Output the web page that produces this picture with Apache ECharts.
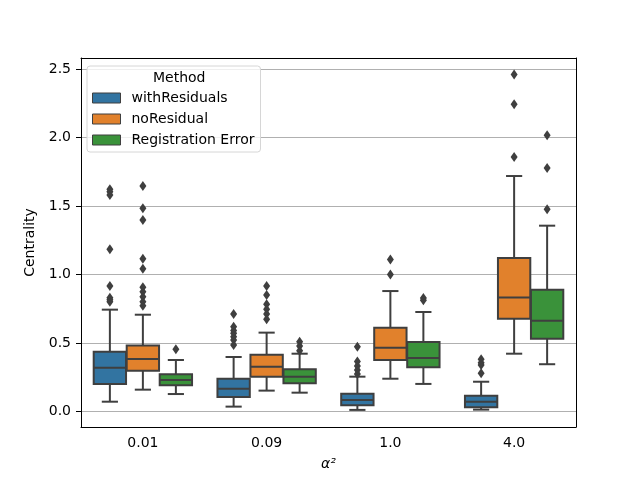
<!DOCTYPE html>
<html>
<head>
<meta charset="utf-8">
<script src="https://cdn.jsdelivr.net/npm/echarts@6/dist/echarts.min.js"></script>
<style>
  html, body { margin: 0; padding: 0; background: #fff; }
  #main { width: 640px; height: 480px; }
</style>
</head>
<body>
<div id="main"></div>
<script>
var categories = ['0.01', '0.09', '1.0', '4.0']
var methods = ['withResiduals', 'noResidual', 'Registration Error']
var colors = ['#3274a1', '#e1812c', '#3a923a']

// [lower whisker, q1, median, q3, upper whisker] per category
var withResiduals = [
  [0.070, 0.200, 0.319, 0.436, 0.743],
  [0.034, 0.105, 0.165, 0.238, 0.397],
  [0.010, 0.044, 0.083, 0.129, 0.253],
  [0.012, 0.029, 0.070, 0.114, 0.216]
]
var noResidual = [
  [0.158, 0.297, 0.382, 0.480, 0.706],
  [0.151, 0.253, 0.326, 0.414, 0.575],
  [0.238, 0.375, 0.465, 0.611, 0.879],
  [0.421, 0.677, 0.831, 1.121, 1.720]
]
var registrationError = [
  [0.126, 0.190, 0.229, 0.270, 0.375],
  [0.136, 0.205, 0.253, 0.307, 0.421],
  [0.200, 0.322, 0.390, 0.507, 0.726],
  [0.344, 0.531, 0.662, 0.889, 1.357]
]

// outliers per category
var withResidualsOut = [
  [1.623, 1.605, 1.581, 1.184, 0.916, 0.830, 0.815, 0.801],
  [0.711, 0.618, 0.590, 0.570, 0.545, 0.521, 0.485],
  [0.472, 0.363, 0.331, 0.302, 0.273],
  [0.380, 0.355, 0.338, 0.278]
]
var noResidualOut = [
  [1.647, 1.484, 1.398, 1.116, 1.042, 0.906, 0.874, 0.838, 0.801, 0.772],
  [0.916, 0.850, 0.782, 0.746, 0.711, 0.672],
  [1.110, 1.000],
  [2.463, 2.244, 1.859]
]
var registrationErrorOut = [
  [0.453],
  [0.509, 0.477, 0.443],
  [0.829, 0.812],
  [2.018, 1.778, 1.477]
]

var yTicks = [0.0, 0.5, 1.0, 1.5, 2.0, 2.5]

var boxes = [withResiduals, noResidual, registrationError]
var outs = [withResidualsOut, noResidualOut, registrationErrorOut]
var dodge = 0.8 / 3
var boxW = dodge * 0.98
var lineCol = '#3f3f3f'

function renderBox (params, api) {
  var x = api.value(0)
  var w = api.size([boxW, 0])[0]
  var c = api.coord([x, 0])[0]
  var yl = api.coord([x, api.value(1)])[1]
  var y1 = api.coord([x, api.value(2)])[1]
  var ym = api.coord([x, api.value(3)])[1]
  var y3 = api.coord([x, api.value(4)])[1]
  var yh = api.coord([x, api.value(5)])[1]
  var ls = { stroke: lineCol, lineWidth: 2 }
  return {
    type: 'group',
    children: [
      { type: 'line', shape: { x1: c, y1: y3, x2: c, y2: yh }, style: ls },
      { type: 'line', shape: { x1: c, y1: y1, x2: c, y2: yl }, style: ls },
      { type: 'line', shape: { x1: c - w / 4, y1: yh, x2: c + w / 4, y2: yh }, style: ls },
      { type: 'line', shape: { x1: c - w / 4, y1: yl, x2: c + w / 4, y2: yl }, style: ls },
      { type: 'rect', shape: { x: c - w / 2, y: y3, width: w, height: y1 - y3 },
        style: { fill: api.visual('color'), stroke: lineCol, lineWidth: 2 } },
      { type: 'line', shape: { x1: c - w / 2, y1: ym, x2: c + w / 2, y2: ym }, style: ls }
    ]
  }
}

var series = []
var outlierData = []
methods.forEach(function (name, k) {
  var off = (k - 1) * dodge
  var data = boxes[k].map(function (b, i) {
    return [i + off].concat(b)
  })
  series.push({
    name: name,
    type: 'custom',
    xAxisIndex: 1,
    itemStyle: { color: colors[k], borderColor: lineCol, borderWidth: 1 },
    renderItem: renderBox,
    encode: { x: 0, y: [1, 2, 3, 4, 5] },
    data: data
  })
  outs[k].forEach(function (vals, i) {
    vals.forEach(function (v) { outlierData.push([i + off, v]) })
  })
})
series.push({
  name: 'outliers',
  type: 'scatter',
  xAxisIndex: 1,
  symbol: 'diamond',
  symbolSize: [7, 10],
  itemStyle: { color: lineCol, opacity: 1 },
  data: outlierData
})

var font = 'DejaVu Sans'
var option = {
  animation: false,
  backgroundColor: '#fff',
  textStyle: { fontFamily: font },
  title: {
    text: 'Method',
    left: 148, top: 66,
    z: 8,
    textStyle: { fontSize: 14, fontWeight: 'normal', color: '#000', fontFamily: font }
  },
  legend: {
    data: methods,
    orient: 'vertical',
    left: 87, top: 66,
    z: 7,
    padding: [25, 6, 5, 5],
    icon: 'rect',
    itemWidth: 28, itemHeight: 10,
    itemGap: 7,
    itemStyle: { borderColor: lineCol, borderWidth: 1 },
    borderColor: '#d6d6d6', borderWidth: 1, borderRadius: 3,
    backgroundColor: 'rgba(255,255,255,0.8)',
    textStyle: { fontSize: 14, color: '#000', fontFamily: font, padding: [0, 0, 0, 6] }
  },
  grid: { left: 81, right: 64, top: 58, bottom: 53 },
  xAxis: [{
    type: 'category',
    data: categories,
    name: 'α²',
    nameLocation: 'middle',
    nameGap: 30,
    nameTextStyle: { fontSize: 14, color: '#000', fontStyle: 'italic' },
    axisLine: { onZero: false, lineStyle: { color: '#000', width: 1 } },
    axisTick: { alignWithLabel: true, length: 5, lineStyle: { color: '#000' } },
    axisLabel: { fontSize: 14, color: '#000', margin: 9 },
    splitLine: { show: false },
    z: 10
  }, {
    type: 'value',
    min: -0.5, max: 3.5,
    position: 'top',
    z: 10,
    axisLine: { show: true, onZero: false, lineStyle: { color: '#000', width: 1 } },
    axisTick: { show: false },
    axisLabel: { show: false },
    splitLine: { show: false }
  }],
  yAxis: [{
    type: 'value',
    min: -0.115, max: 2.583,
    name: 'Centrality',
    nameLocation: 'middle',
    nameGap: 33,
    nameTextStyle: { fontSize: 14, color: '#000' },
    axisLine: { show: true, onZero: false, lineStyle: { color: '#000', width: 1 } },
    axisTick: { show: true, length: 5, lineStyle: { color: '#000' } },
    axisLabel: {
      fontSize: 14, color: '#000', margin: 10,
      showMinLabel: false, showMaxLabel: false,
      formatter: function (v) { return yTicks.indexOf(+v.toFixed(3)) >= 0 ? v.toFixed(1) : '' }
    },
    splitLine: { show: true, lineStyle: { color: '#b0b0b0', width: 1 } }
  }, {
    type: 'value',
    min: -0.115, max: 2.583,
    position: 'right',
    z: 10,
    axisLine: { show: true, onZero: false, lineStyle: { color: '#000', width: 1 } },
    axisTick: { show: false },
    axisLabel: { show: false },
    splitLine: { show: false }
  }],
  series: series
}

var myChart = echarts.init(document.getElementById('main'))
myChart.setOption(option)
</script>
</body>
</html>
